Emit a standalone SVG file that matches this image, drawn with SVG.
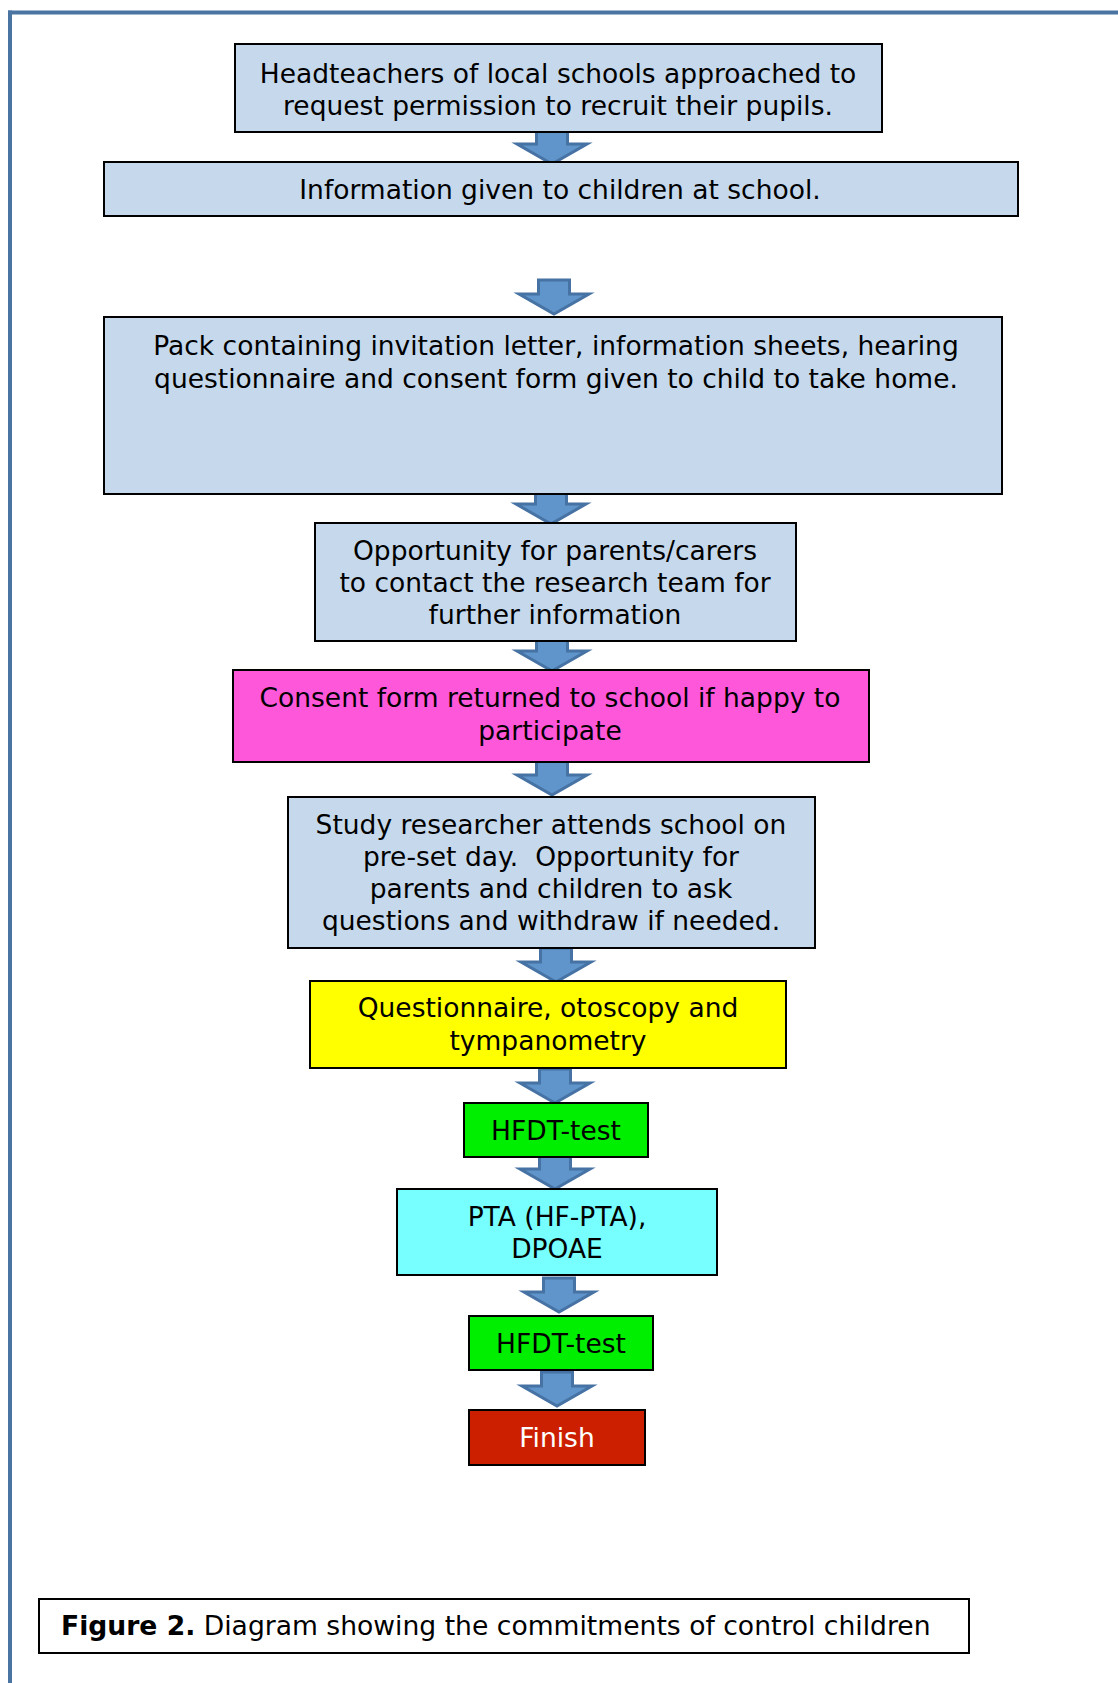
<svg xmlns="http://www.w3.org/2000/svg" width="1118" height="1683" viewBox="0 0 1118 1683">
<defs>
<style>
.box{stroke:#000;stroke-width:2}
.blue{fill:#c6d9ec}
.t{font-family:"DejaVu Sans","Verdana",sans-serif;font-size:26.5px;fill:#000;text-anchor:middle}
.arrow{fill:#5f95ca;stroke:#4672a4;stroke-width:3;stroke-linejoin:miter}
.cap{font-family:"DejaVu Sans","Verdana",sans-serif;font-size:26.6px;fill:#000}
</style>
<path id="arr" d="M-15.5 0 H15.5 V14 H35 L0 34 L-35 14 H-15.5 Z"/>
</defs>
<rect width="1118" height="1683" fill="#fff"/>
<g id="frame">
<line x1="8" y1="12.5" x2="1118" y2="12.5" stroke="#4a74a2" stroke-width="4"/>
<line x1="10" y1="10.5" x2="10" y2="1683" stroke="#4a74a2" stroke-width="4"/>
</g>
<g id="connectors">
<use href="#arr" class="arrow" x="552" y="130"/>
<use href="#arr" class="arrow" x="554" y="280"/>
<use href="#arr" class="arrow" x="551" y="490"/>
<use href="#arr" class="arrow" x="552" y="637"/>
<use href="#arr" class="arrow" x="552" y="761"/>
<use href="#arr" class="arrow" x="556" y="948"/>
<use href="#arr" class="arrow" x="555" y="1069"/>
<use href="#arr" class="arrow" x="555" y="1155"/>
<use href="#arr" class="arrow" x="559" y="1278"/>
<use href="#arr" class="arrow" x="557" y="1372"/>
</g>
<g id="n1">
<rect class="box blue" x="235" y="44" width="647" height="88"/>
<text class="t" x="558" y="83">Headteachers of local schools approached to</text>
<text class="t" x="558" y="115">request permission to recruit their pupils.</text>
</g>
<g id="n2">
<rect class="box blue" x="104" y="162" width="914" height="54"/>
<text class="t" x="560" y="199">Information given to children at school.</text>
</g>
<g id="n3">
<rect class="box blue" x="104" y="317" width="898" height="177"/>
<text class="t" x="556" y="355">Pack containing invitation letter, information sheets, hearing</text>
<text class="t" x="556" y="388">questionnaire and consent form given to child to take home.</text>
</g>
<g id="n4">
<rect class="box blue" x="315" y="523" width="481" height="118"/>
<text class="t" x="555" y="560">Opportunity for parents/carers</text>
<text class="t" x="555" y="592">to contact the research team for</text>
<text class="t" x="555" y="624">further information</text>
</g>
<g id="n5">
<rect class="box" fill="#ff57da" x="233" y="670" width="636" height="92"/>
<text class="t" x="550" y="707">Consent form returned to school if happy to</text>
<text class="t" x="550" y="740">participate</text>
</g>
<g id="n6">
<rect class="box blue" x="288" y="797" width="527" height="151"/>
<text class="t" x="551" y="834">Study researcher attends school on</text>
<text class="t" x="551" y="866" style="white-space:pre">pre-set day.  Opportunity for</text>
<text class="t" x="551" y="898">parents and children to ask</text>
<text class="t" x="551" y="930">questions and withdraw if needed.</text>
</g>
<g id="n7">
<rect class="box" fill="#ffff00" x="310" y="981" width="476" height="87"/>
<text class="t" x="548" y="1017">Questionnaire, otoscopy and</text>
<text class="t" x="548" y="1050">tympanometry</text>
</g>
<g id="n8">
<rect class="box" fill="#00ee00" x="464" y="1103" width="184" height="54"/>
<text class="t" x="556" y="1140">HFDT-test</text>
</g>
<g id="n9">
<rect class="box" fill="#77ffff" x="397" y="1189" width="320" height="86"/>
<text class="t" x="557" y="1226">PTA (HF-PTA),</text>
<text class="t" x="557" y="1258">DPOAE</text>
</g>
<g id="n10">
<rect class="box" fill="#00ee00" x="469" y="1316" width="184" height="54"/>
<text class="t" x="561" y="1353">HFDT-test</text>
</g>
<g id="n11">
<rect class="box" fill="#cc1f00" x="469" y="1410" width="176" height="55"/>
<text class="t" x="557" y="1447" style="fill:#fff">Finish</text>
</g>
<g id="caption">
<rect x="39" y="1599" width="930" height="54" fill="#fff" stroke="#000" stroke-width="2"/>
<text class="cap" x="61" y="1635"><tspan font-weight="bold">Figure 2.</tspan> Diagram showing the commitments of control children</text>
</g>
</svg>
